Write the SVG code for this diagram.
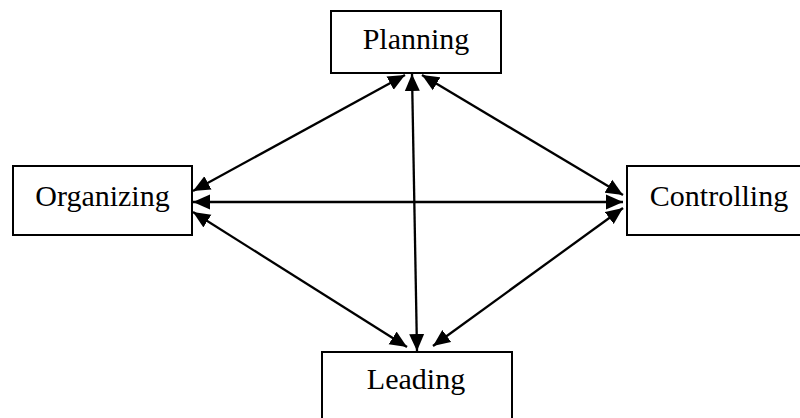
<svg xmlns="http://www.w3.org/2000/svg" width="800" height="418" viewBox="0 0 800 418">
<defs>
<style>
.box{fill:#fff;stroke:#000;stroke-width:2}
.lbl{font-family:"Liberation Serif","Times New Roman",serif;font-size:30px;fill:#000;text-anchor:middle}
.conn{stroke:#000;stroke-width:2.3;fill:none;marker-start:url(#ah);marker-end:url(#ah)}
</style>
<marker id="ah" markerUnits="userSpaceOnUse" markerWidth="18" markerHeight="16" refX="17" refY="8" orient="auto-start-reverse" viewBox="0 0 18 16">
<path d="M0,0.5 L17,8 L0,15.5 z" fill="#000"/>
</marker>
</defs>
<rect width="800" height="418" fill="#fff"/>
<g id="planning"><rect class="box" x="331" y="11" width="170" height="62"/><text class="lbl" x="416" y="49">Planning</text></g>
<g id="organizing"><rect class="box" x="13" y="166" width="179" height="69"/><text class="lbl" x="102.5" y="206">Organizing</text></g>
<g id="controlling"><rect class="box" x="627" y="166" width="190" height="69"/><text class="lbl" x="719" y="206">Controlling</text></g>
<g id="leading"><rect class="box" x="322" y="352" width="190" height="80"/><text class="lbl" x="416" y="389">Leading</text></g>
<g id="connectors">
<line class="conn" x1="193" y1="191" x2="405" y2="75"/>
<line class="conn" x1="422" y1="75" x2="623" y2="195"/>
<line class="conn" x1="193" y1="202" x2="623" y2="202"/>
<line class="conn" x1="193" y1="212" x2="407" y2="347"/>
<line class="conn" x1="623" y1="208" x2="433" y2="346"/>
<line class="conn" x1="412" y1="74" x2="417" y2="351"/>
</g>
</svg>
